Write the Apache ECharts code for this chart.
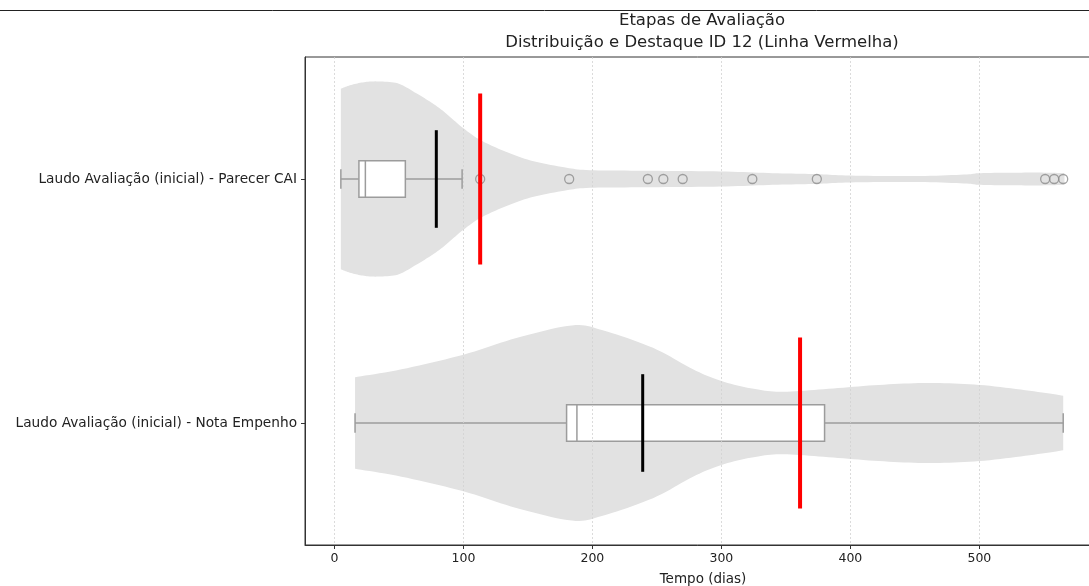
<!DOCTYPE html>
<html>
<head>
<meta charset="utf-8">
<script src="https://cdn.jsdelivr.net/npm/echarts@6/dist/echarts.min.js"></script>
<style>html,body{margin:0;padding:0;background:#fff;}#chart{width:1089px;height:586px;}</style>
</head>
<body>
<div id="chart"></div>
<script>
// ---- data ----
const titleLine1 = 'Etapas de Avaliação';
const titleLine2 = 'Distribuição e Destaque ID 12 (Linha Vermelha)';
const xAxisName = 'Tempo (dias)';
const categories = ['Laudo Avaliação (inicial) - Parecer CAI', 'Laudo Avaliação (inicial) - Nota Empenho'];
const xTicks = [0, 100, 200, 300, 400, 500];

// violin outline: value (days) and relative half-width (1 = widest)
const violinValues0 = [5, 12, 22, 33, 49, 62, 72, 82, 91, 100, 113, 131, 152, 178, 198, 240, 299, 340, 374, 400, 449, 488, 501, 530, 552, 566];
const violinWidths0 = [0.925, 0.96, 0.99, 1.0, 0.98, 0.89, 0.81, 0.72, 0.62, 0.52, 0.40, 0.29, 0.19, 0.12, 0.09, 0.085, 0.077, 0.06, 0.05, 0.035, 0.03, 0.045, 0.06, 0.065, 0.065, 0.06];
const violinValues1 = [16, 52, 100, 141, 184, 208, 247, 278, 300, 325, 348, 383, 422, 461, 500, 539, 565];
const violinWidths1 = [0.47, 0.55, 0.70, 0.87, 1.0, 0.95, 0.77, 0.55, 0.43, 0.35, 0.32, 0.35, 0.39, 0.41, 0.39, 0.33, 0.28];

// box plot statistics
const whiskerLow = [5, 16];
const quartile1 = [19, 180];
const medians = [24, 188];
const quartile3 = [55, 380];
const whiskerHigh = [99, 565];
const outliers0 = [113, 182, 243, 255, 270, 324, 374, 551, 558, 565];

// black line and highlighted ID 12 (red)
const blackLineValues = [79, 239];
const id12Values = [113, 361];

// ---- chart ----
const FONT = 'DejaVu Sans';
const chart = echarts.init(document.getElementById('chart'), null, {renderer: 'canvas'});
const violinValues = [violinValues0, violinValues1];
const violinWidths = [violinWidths0, violinWidths1];
const VIOLIN_HALF = 0.4;

function catmull(pts, steps) {
  const out = [];
  for (let i = 0; i < pts.length - 1; i++) {
    const p0 = pts[Math.max(0, i - 1)], p1 = pts[i], p2 = pts[i + 1], p3 = pts[Math.min(pts.length - 1, i + 2)];
    for (let s = 0; s < steps; s++) {
      const t = s / steps, t2 = t * t, t3 = t2 * t;
      out.push([0, 1].map(k => 0.5 * ((2 * p1[k]) + (-p0[k] + p2[k]) * t + (2 * p0[k] - 5 * p1[k] + 4 * p2[k] - p3[k]) * t2 + (-p0[k] + 3 * p1[k] - 3 * p2[k] + p3[k]) * t3)));
    }
  }
  out.push(pts[pts.length - 1]);
  return out;
}

const violinData = categories.map((c, i) => [violinValues[i][0], i]);
const boxData = categories.map((c, i) => [i, whiskerLow[i], quartile1[i], medians[i], quartile3[i], whiskerHigh[i]]);
const blackData = blackLineValues.map((v, i) => [v, i]);
const redData = id12Values.map((v, i) => [v, i]);
const outlierData = outliers0.map(v => [v, 0]);

const option = {
  animation: false,
  backgroundColor: '#fff',
  graphic: [
    {type: 'line', shape: {x1: 0, y1: 10.5, x2: 1089, y2: 10.5}, style: {stroke: '#222', lineWidth: 1}, silent: true},
    {type: 'text', x: 702, y: 21, style: {text: titleLine1, font: '16.5px "DejaVu Sans"', fill: '#222', textAlign: 'center', textVerticalAlign: 'middle'}},
    {type: 'text', x: 702, y: 43, style: {text: titleLine2, font: '16.5px "DejaVu Sans"', fill: '#222', textAlign: 'center', textVerticalAlign: 'middle'}}
  ],
  grid: {left: 305, top: 57, width: 796, height: 488, outerBoundsMode: 'none', containLabel: false, show: true, borderColor: '#333', borderWidth: 1, backgroundColor: 'transparent'},
  xAxis: {
    type: 'value', min: -22.8, max: 594.3,
    name: xAxisName, nameLocation: 'middle', nameGap: 27,
    nameTextStyle: {fontFamily: FONT, fontSize: 13.5, color: '#222'},
    axisLine: {show: true, onZero: false, lineStyle: {color: '#333', width: 1}},
    axisTick: {show: true, customValues: xTicks, length: 4, lineStyle: {color: '#333'}},
    axisLabel: {customValues: xTicks, margin: 7, fontFamily: FONT, fontSize: 12.5, color: '#222'},
    splitLine: {show: false}
  },
  yAxis: {
    type: 'value', min: -0.5, max: 1.5, inverse: true,
    axisLine: {show: true, onZero: false, lineStyle: {color: '#333', width: 1}},
    axisTick: {show: true, customValues: [0, 1], length: 4, lineStyle: {color: '#333'}},
    axisLabel: {customValues: [0, 1], margin: 8, fontFamily: FONT, fontSize: 13.7, color: '#222', formatter: v => categories[Math.round(v)]},
    splitLine: {show: false}
  },
  series: [
    {
      type: 'line', data: [], silent: true, z: 1,
      markLine: {
        silent: true, symbol: ['none', 'none'], label: {show: false},
        lineStyle: {color: '#d2d2d2', type: [2, 2], width: 0.8},
        data: xTicks.map(v => ({xAxis: v}))
      }
    },
    {
      type: 'custom', z: 2, silent: true, data: violinData,
      renderItem: function (params, api) {
        const i = params.dataIndex;
        const vals = violinValues[i], ws = violinWidths[i];
        const top = vals.map((v, k) => api.coord([v, i - ws[k] * VIOLIN_HALF]));
        const bot = vals.map((v, k) => api.coord([v, i + ws[k] * VIOLIN_HALF]));
        const topS = catmull(top, 10);
        const botS = catmull(bot, 10).reverse();
        return {type: 'polygon', shape: {points: topS.concat(botS)}, style: {fill: '#e2e2e2', stroke: null}};
      }
    },
    {
      type: 'custom', z: 3, silent: true, data: boxData,
      encode: {x: [1, 2, 3, 4, 5], y: 0},
      renderItem: function (params, api) {
        const i = api.value(0);
        const lo = api.coord([api.value(1), i]), a = api.coord([api.value(2), i]), m = api.coord([api.value(3), i]), b = api.coord([api.value(4), i]), hi = api.coord([api.value(5), i]);
        const bh = api.size([0, 0.075])[1];
        const ch = api.size([0, 0.04])[1];
        const st = {stroke: '#9c9c9c', lineWidth: 1.5, fill: null};
        return {
          type: 'group', children: [
            {type: 'line', shape: {x1: lo[0], y1: lo[1], x2: a[0], y2: a[1]}, style: st},
            {type: 'line', shape: {x1: b[0], y1: b[1], x2: hi[0], y2: hi[1]}, style: st},
            {type: 'line', shape: {x1: lo[0], y1: lo[1] - ch, x2: lo[0], y2: lo[1] + ch}, style: st},
            {type: 'line', shape: {x1: hi[0], y1: hi[1] - ch, x2: hi[0], y2: hi[1] + ch}, style: st},
            {type: 'rect', shape: {x: a[0], y: a[1] - bh, width: b[0] - a[0], height: 2 * bh}, style: {fill: '#fff', stroke: '#9c9c9c', lineWidth: 1.5}},
            {type: 'line', shape: {x1: m[0], y1: m[1] - bh, x2: m[0], y2: m[1] + bh}, style: st}
          ]
        };
      }
    },
    {
      type: 'scatter', z: 4, silent: true, data: outlierData,
      symbol: 'circle', symbolSize: 9,
      itemStyle: {color: 'rgba(0,0,0,0)', borderColor: '#8c8c8c', borderWidth: 1.3}
    },
    {
      type: 'custom', z: 5, silent: true, data: blackData,
      renderItem: function (params, api) {
        const p1 = api.coord([api.value(0), api.value(1) - 0.2]);
        const p2 = api.coord([api.value(0), api.value(1) + 0.2]);
        return {type: 'line', shape: {x1: p1[0], y1: p1[1], x2: p2[0], y2: p2[1]}, style: {stroke: '#000', lineWidth: 3}};
      }
    },
    {
      type: 'custom', z: 6, silent: true, data: redData,
      renderItem: function (params, api) {
        const p1 = api.coord([api.value(0), api.value(1) - 0.35]);
        const p2 = api.coord([api.value(0), api.value(1) + 0.35]);
        return {type: 'line', shape: {x1: p1[0], y1: p1[1], x2: p2[0], y2: p2[1]}, style: {stroke: '#ff0000', lineWidth: 4}};
      }
    }
  ]
};
chart.setOption(option);
</script>
</body>
</html>
